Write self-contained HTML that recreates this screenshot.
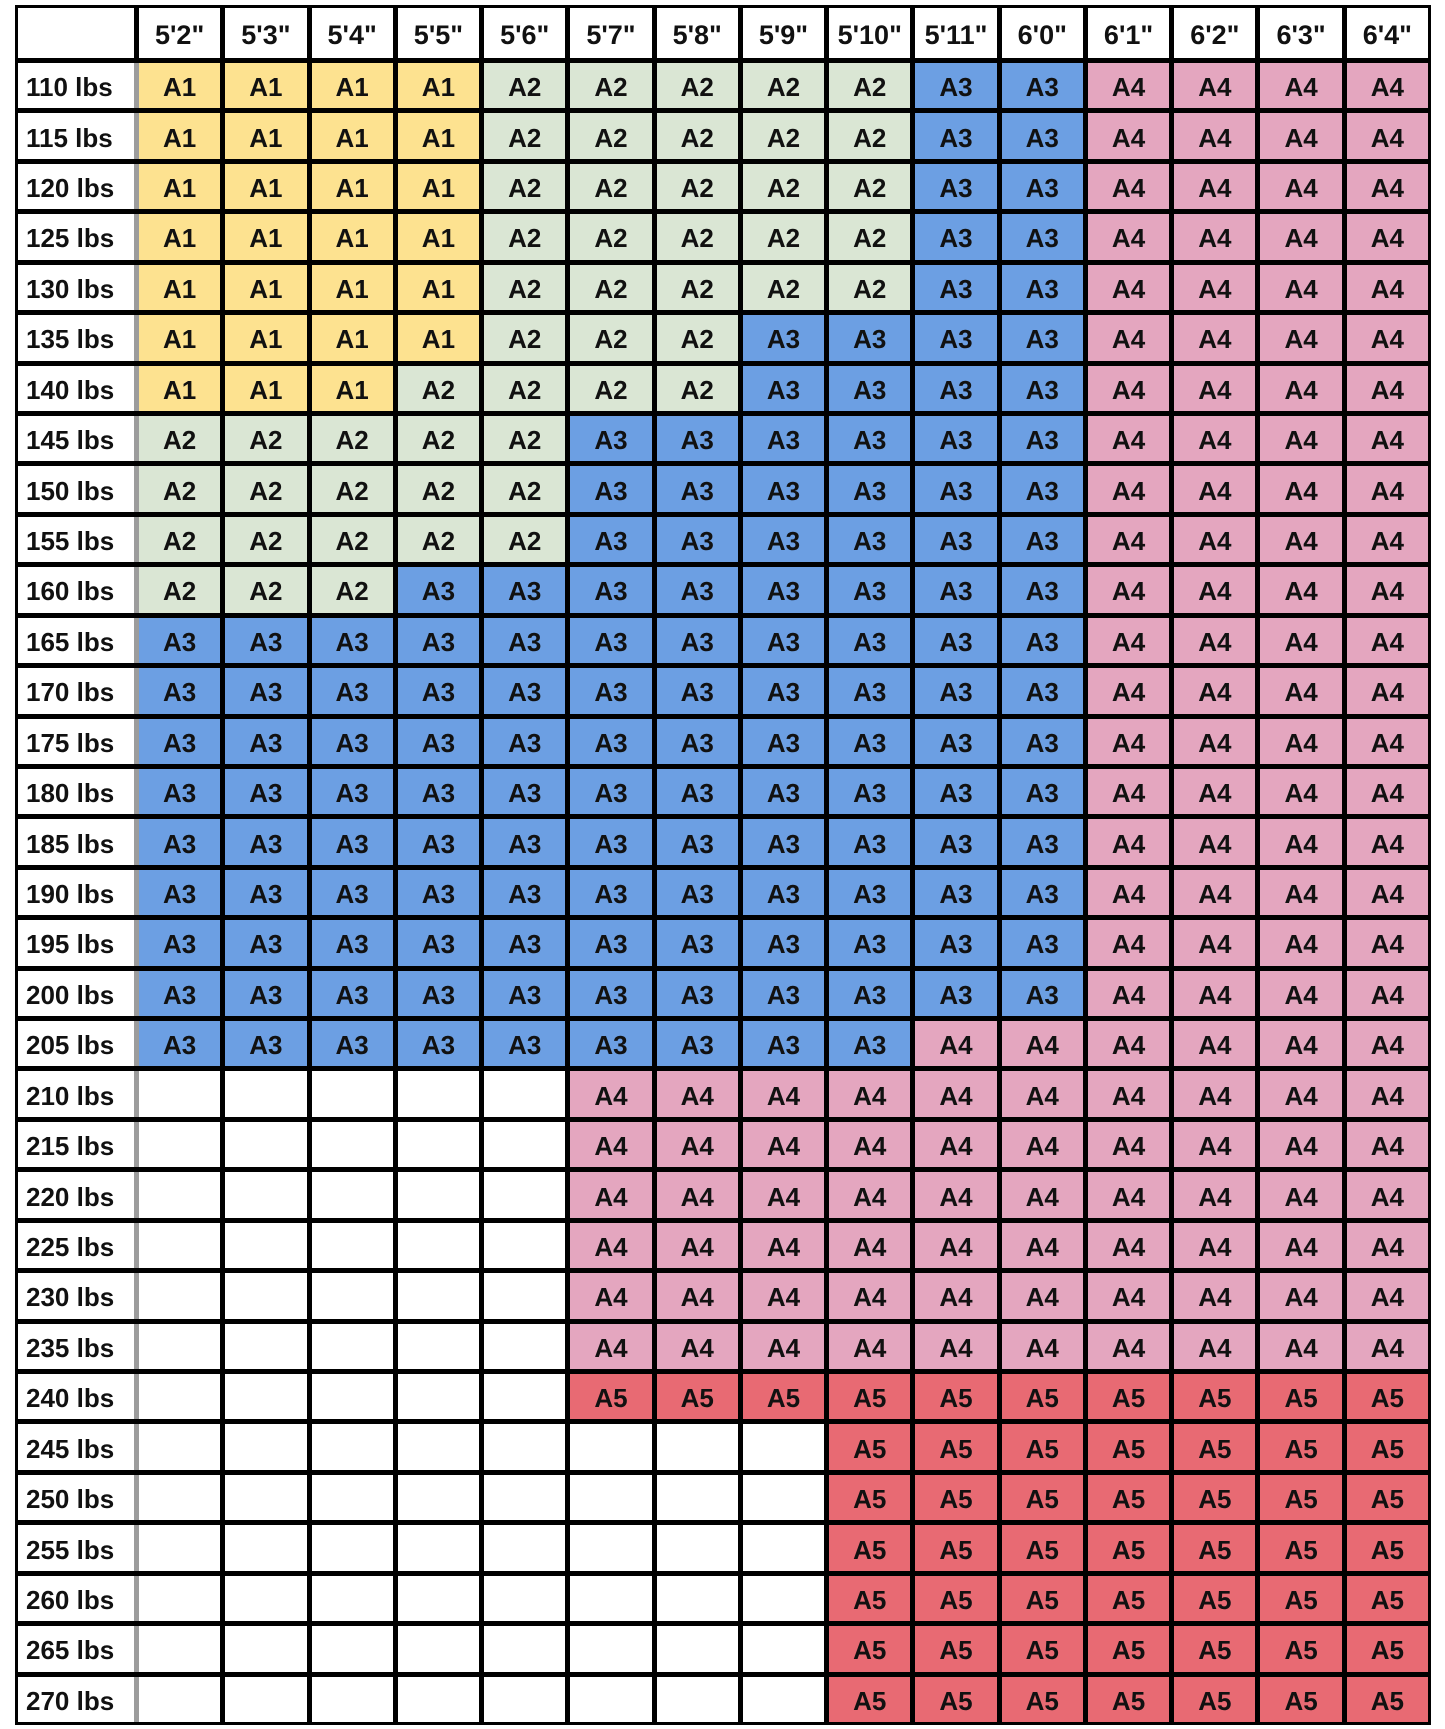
<!DOCTYPE html>
<html><head><meta charset="utf-8"><style>
html,body{margin:0;padding:0;background:#fff;width:1445px;height:1729px;overflow:hidden}
.g{position:absolute;left:15px;top:5px;width:1410px;height:1714px;padding:3px;background:#000;display:grid;grid-template-columns:116px repeat(15,1fr);grid-template-rows:50px repeat(33,1fr);gap:5px;font-family:"Liberation Sans",sans-serif;font-weight:bold;color:#111}
.g>*{display:flex;align-items:center;justify-content:center;font-size:26px;font-weight:bold;font-style:normal;padding-top:4px;box-sizing:border-box}
.g>i{background:#fff;justify-content:flex-start;padding-left:8px;font-size:26px}
.g>u{background:#fff;text-decoration:none;font-size:27px}
.g>i+*{margin-left:-5px;border-left:5px solid #9c9c9c}
.y{background:#fde290}.e{background:#dae6d4}.b{background:#6c9fe3}.p{background:#e4a6bf}.r{background:#e86a73}.w{background:#fff}
</style></head><body><div class="g">
<u></u><u>5'2"</u><u>5'3"</u><u>5'4"</u><u>5'5"</u><u>5'6"</u><u>5'7"</u><u>5'8"</u><u>5'9"</u><u>5'10"</u><u>5'11"</u><u>6'0"</u><u>6'1"</u><u>6'2"</u><u>6'3"</u><u>6'4"</u>
<i>110 lbs</i><b class=y>A1</b><b class=y>A1</b><b class=y>A1</b><b class=y>A1</b><b class=e>A2</b><b class=e>A2</b><b class=e>A2</b><b class=e>A2</b><b class=e>A2</b><b class=b>A3</b><b class=b>A3</b><b class=p>A4</b><b class=p>A4</b><b class=p>A4</b><b class=p>A4</b>
<i>115 lbs</i><b class=y>A1</b><b class=y>A1</b><b class=y>A1</b><b class=y>A1</b><b class=e>A2</b><b class=e>A2</b><b class=e>A2</b><b class=e>A2</b><b class=e>A2</b><b class=b>A3</b><b class=b>A3</b><b class=p>A4</b><b class=p>A4</b><b class=p>A4</b><b class=p>A4</b>
<i>120 lbs</i><b class=y>A1</b><b class=y>A1</b><b class=y>A1</b><b class=y>A1</b><b class=e>A2</b><b class=e>A2</b><b class=e>A2</b><b class=e>A2</b><b class=e>A2</b><b class=b>A3</b><b class=b>A3</b><b class=p>A4</b><b class=p>A4</b><b class=p>A4</b><b class=p>A4</b>
<i>125 lbs</i><b class=y>A1</b><b class=y>A1</b><b class=y>A1</b><b class=y>A1</b><b class=e>A2</b><b class=e>A2</b><b class=e>A2</b><b class=e>A2</b><b class=e>A2</b><b class=b>A3</b><b class=b>A3</b><b class=p>A4</b><b class=p>A4</b><b class=p>A4</b><b class=p>A4</b>
<i>130 lbs</i><b class=y>A1</b><b class=y>A1</b><b class=y>A1</b><b class=y>A1</b><b class=e>A2</b><b class=e>A2</b><b class=e>A2</b><b class=e>A2</b><b class=e>A2</b><b class=b>A3</b><b class=b>A3</b><b class=p>A4</b><b class=p>A4</b><b class=p>A4</b><b class=p>A4</b>
<i>135 lbs</i><b class=y>A1</b><b class=y>A1</b><b class=y>A1</b><b class=y>A1</b><b class=e>A2</b><b class=e>A2</b><b class=e>A2</b><b class=b>A3</b><b class=b>A3</b><b class=b>A3</b><b class=b>A3</b><b class=p>A4</b><b class=p>A4</b><b class=p>A4</b><b class=p>A4</b>
<i>140 lbs</i><b class=y>A1</b><b class=y>A1</b><b class=y>A1</b><b class=e>A2</b><b class=e>A2</b><b class=e>A2</b><b class=e>A2</b><b class=b>A3</b><b class=b>A3</b><b class=b>A3</b><b class=b>A3</b><b class=p>A4</b><b class=p>A4</b><b class=p>A4</b><b class=p>A4</b>
<i>145 lbs</i><b class=e>A2</b><b class=e>A2</b><b class=e>A2</b><b class=e>A2</b><b class=e>A2</b><b class=b>A3</b><b class=b>A3</b><b class=b>A3</b><b class=b>A3</b><b class=b>A3</b><b class=b>A3</b><b class=p>A4</b><b class=p>A4</b><b class=p>A4</b><b class=p>A4</b>
<i>150 lbs</i><b class=e>A2</b><b class=e>A2</b><b class=e>A2</b><b class=e>A2</b><b class=e>A2</b><b class=b>A3</b><b class=b>A3</b><b class=b>A3</b><b class=b>A3</b><b class=b>A3</b><b class=b>A3</b><b class=p>A4</b><b class=p>A4</b><b class=p>A4</b><b class=p>A4</b>
<i>155 lbs</i><b class=e>A2</b><b class=e>A2</b><b class=e>A2</b><b class=e>A2</b><b class=e>A2</b><b class=b>A3</b><b class=b>A3</b><b class=b>A3</b><b class=b>A3</b><b class=b>A3</b><b class=b>A3</b><b class=p>A4</b><b class=p>A4</b><b class=p>A4</b><b class=p>A4</b>
<i>160 lbs</i><b class=e>A2</b><b class=e>A2</b><b class=e>A2</b><b class=b>A3</b><b class=b>A3</b><b class=b>A3</b><b class=b>A3</b><b class=b>A3</b><b class=b>A3</b><b class=b>A3</b><b class=b>A3</b><b class=p>A4</b><b class=p>A4</b><b class=p>A4</b><b class=p>A4</b>
<i>165 lbs</i><b class=b>A3</b><b class=b>A3</b><b class=b>A3</b><b class=b>A3</b><b class=b>A3</b><b class=b>A3</b><b class=b>A3</b><b class=b>A3</b><b class=b>A3</b><b class=b>A3</b><b class=b>A3</b><b class=p>A4</b><b class=p>A4</b><b class=p>A4</b><b class=p>A4</b>
<i>170 lbs</i><b class=b>A3</b><b class=b>A3</b><b class=b>A3</b><b class=b>A3</b><b class=b>A3</b><b class=b>A3</b><b class=b>A3</b><b class=b>A3</b><b class=b>A3</b><b class=b>A3</b><b class=b>A3</b><b class=p>A4</b><b class=p>A4</b><b class=p>A4</b><b class=p>A4</b>
<i>175 lbs</i><b class=b>A3</b><b class=b>A3</b><b class=b>A3</b><b class=b>A3</b><b class=b>A3</b><b class=b>A3</b><b class=b>A3</b><b class=b>A3</b><b class=b>A3</b><b class=b>A3</b><b class=b>A3</b><b class=p>A4</b><b class=p>A4</b><b class=p>A4</b><b class=p>A4</b>
<i>180 lbs</i><b class=b>A3</b><b class=b>A3</b><b class=b>A3</b><b class=b>A3</b><b class=b>A3</b><b class=b>A3</b><b class=b>A3</b><b class=b>A3</b><b class=b>A3</b><b class=b>A3</b><b class=b>A3</b><b class=p>A4</b><b class=p>A4</b><b class=p>A4</b><b class=p>A4</b>
<i>185 lbs</i><b class=b>A3</b><b class=b>A3</b><b class=b>A3</b><b class=b>A3</b><b class=b>A3</b><b class=b>A3</b><b class=b>A3</b><b class=b>A3</b><b class=b>A3</b><b class=b>A3</b><b class=b>A3</b><b class=p>A4</b><b class=p>A4</b><b class=p>A4</b><b class=p>A4</b>
<i>190 lbs</i><b class=b>A3</b><b class=b>A3</b><b class=b>A3</b><b class=b>A3</b><b class=b>A3</b><b class=b>A3</b><b class=b>A3</b><b class=b>A3</b><b class=b>A3</b><b class=b>A3</b><b class=b>A3</b><b class=p>A4</b><b class=p>A4</b><b class=p>A4</b><b class=p>A4</b>
<i>195 lbs</i><b class=b>A3</b><b class=b>A3</b><b class=b>A3</b><b class=b>A3</b><b class=b>A3</b><b class=b>A3</b><b class=b>A3</b><b class=b>A3</b><b class=b>A3</b><b class=b>A3</b><b class=b>A3</b><b class=p>A4</b><b class=p>A4</b><b class=p>A4</b><b class=p>A4</b>
<i>200 lbs</i><b class=b>A3</b><b class=b>A3</b><b class=b>A3</b><b class=b>A3</b><b class=b>A3</b><b class=b>A3</b><b class=b>A3</b><b class=b>A3</b><b class=b>A3</b><b class=b>A3</b><b class=b>A3</b><b class=p>A4</b><b class=p>A4</b><b class=p>A4</b><b class=p>A4</b>
<i>205 lbs</i><b class=b>A3</b><b class=b>A3</b><b class=b>A3</b><b class=b>A3</b><b class=b>A3</b><b class=b>A3</b><b class=b>A3</b><b class=b>A3</b><b class=b>A3</b><b class=p>A4</b><b class=p>A4</b><b class=p>A4</b><b class=p>A4</b><b class=p>A4</b><b class=p>A4</b>
<i>210 lbs</i><b class=w></b><b class=w></b><b class=w></b><b class=w></b><b class=w></b><b class=p>A4</b><b class=p>A4</b><b class=p>A4</b><b class=p>A4</b><b class=p>A4</b><b class=p>A4</b><b class=p>A4</b><b class=p>A4</b><b class=p>A4</b><b class=p>A4</b>
<i>215 lbs</i><b class=w></b><b class=w></b><b class=w></b><b class=w></b><b class=w></b><b class=p>A4</b><b class=p>A4</b><b class=p>A4</b><b class=p>A4</b><b class=p>A4</b><b class=p>A4</b><b class=p>A4</b><b class=p>A4</b><b class=p>A4</b><b class=p>A4</b>
<i>220 lbs</i><b class=w></b><b class=w></b><b class=w></b><b class=w></b><b class=w></b><b class=p>A4</b><b class=p>A4</b><b class=p>A4</b><b class=p>A4</b><b class=p>A4</b><b class=p>A4</b><b class=p>A4</b><b class=p>A4</b><b class=p>A4</b><b class=p>A4</b>
<i>225 lbs</i><b class=w></b><b class=w></b><b class=w></b><b class=w></b><b class=w></b><b class=p>A4</b><b class=p>A4</b><b class=p>A4</b><b class=p>A4</b><b class=p>A4</b><b class=p>A4</b><b class=p>A4</b><b class=p>A4</b><b class=p>A4</b><b class=p>A4</b>
<i>230 lbs</i><b class=w></b><b class=w></b><b class=w></b><b class=w></b><b class=w></b><b class=p>A4</b><b class=p>A4</b><b class=p>A4</b><b class=p>A4</b><b class=p>A4</b><b class=p>A4</b><b class=p>A4</b><b class=p>A4</b><b class=p>A4</b><b class=p>A4</b>
<i>235 lbs</i><b class=w></b><b class=w></b><b class=w></b><b class=w></b><b class=w></b><b class=p>A4</b><b class=p>A4</b><b class=p>A4</b><b class=p>A4</b><b class=p>A4</b><b class=p>A4</b><b class=p>A4</b><b class=p>A4</b><b class=p>A4</b><b class=p>A4</b>
<i>240 lbs</i><b class=w></b><b class=w></b><b class=w></b><b class=w></b><b class=w></b><b class=r>A5</b><b class=r>A5</b><b class=r>A5</b><b class=r>A5</b><b class=r>A5</b><b class=r>A5</b><b class=r>A5</b><b class=r>A5</b><b class=r>A5</b><b class=r>A5</b>
<i>245 lbs</i><b class=w></b><b class=w></b><b class=w></b><b class=w></b><b class=w></b><b class=w></b><b class=w></b><b class=w></b><b class=r>A5</b><b class=r>A5</b><b class=r>A5</b><b class=r>A5</b><b class=r>A5</b><b class=r>A5</b><b class=r>A5</b>
<i>250 lbs</i><b class=w></b><b class=w></b><b class=w></b><b class=w></b><b class=w></b><b class=w></b><b class=w></b><b class=w></b><b class=r>A5</b><b class=r>A5</b><b class=r>A5</b><b class=r>A5</b><b class=r>A5</b><b class=r>A5</b><b class=r>A5</b>
<i>255 lbs</i><b class=w></b><b class=w></b><b class=w></b><b class=w></b><b class=w></b><b class=w></b><b class=w></b><b class=w></b><b class=r>A5</b><b class=r>A5</b><b class=r>A5</b><b class=r>A5</b><b class=r>A5</b><b class=r>A5</b><b class=r>A5</b>
<i>260 lbs</i><b class=w></b><b class=w></b><b class=w></b><b class=w></b><b class=w></b><b class=w></b><b class=w></b><b class=w></b><b class=r>A5</b><b class=r>A5</b><b class=r>A5</b><b class=r>A5</b><b class=r>A5</b><b class=r>A5</b><b class=r>A5</b>
<i>265 lbs</i><b class=w></b><b class=w></b><b class=w></b><b class=w></b><b class=w></b><b class=w></b><b class=w></b><b class=w></b><b class=r>A5</b><b class=r>A5</b><b class=r>A5</b><b class=r>A5</b><b class=r>A5</b><b class=r>A5</b><b class=r>A5</b>
<i>270 lbs</i><b class=w></b><b class=w></b><b class=w></b><b class=w></b><b class=w></b><b class=w></b><b class=w></b><b class=w></b><b class=r>A5</b><b class=r>A5</b><b class=r>A5</b><b class=r>A5</b><b class=r>A5</b><b class=r>A5</b><b class=r>A5</b>
</div></body></html>
